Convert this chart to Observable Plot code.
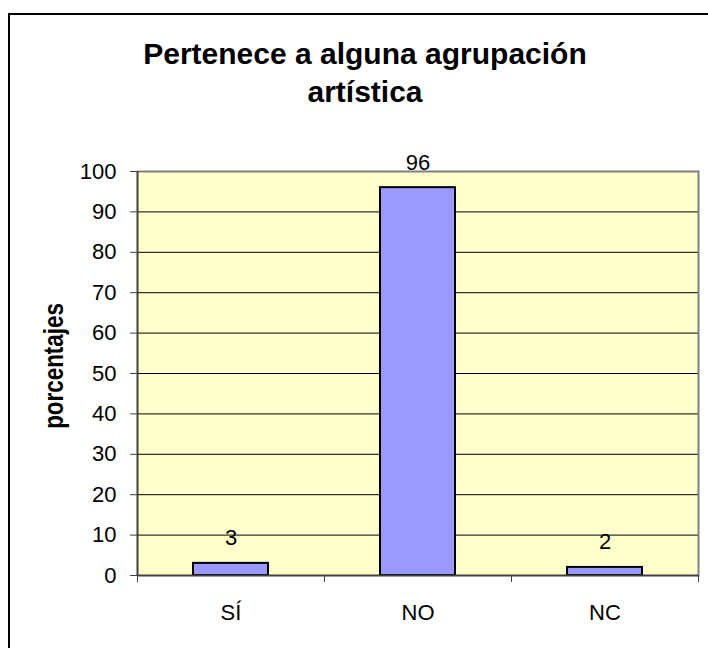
<!DOCTYPE html>
<html>
<head>
<meta charset="utf-8">
<script src="https://cdn.jsdelivr.net/npm/d3@7"></script>
<script src="https://cdn.jsdelivr.net/npm/@observablehq/plot@0.6"></script>
<style>
  html, body { margin: 0; padding: 0; background: #fff; }
  #wrap { position: relative; width: 708px; height: 648px; overflow: hidden; font-family: "Liberation Sans", Arial, sans-serif; }
  #border { position: absolute; left: 8px; top: 13px; width: 760px; height: 700px; border-left: 2px solid #000; border-top: 2px solid #000; box-sizing: border-box; }
  #title { position: absolute; left: 0; width: 730px; top: 35px; text-align: center; font-weight: bold; font-size: 30px; line-height: 38px; color: #000; }
  svg { position: absolute; left: 0; top: 0; }
</style>
</head>
<body>
<div id="wrap">
  <div id="border"></div>
  <div id="title">Pertenece a alguna agrupación<br>artística</div>
</div>
<script>
const categories = ["SÍ", "NO", "NC"];
const values = [3, 96, 2];
const yTicks = [0, 10, 20, 30, 40, 50, 60, 70, 80, 90, 100];
const yLabel = "porcentajes";

const data = categories.map((c, i) => ({cat: c, val: values[i]}));

const W = 708, H = 648, ML = 137, MR = 10, MT = 171, MB = 73;
const step = (W - ML - MR) / categories.length;
const font = "Liberation Sans, Arial, sans-serif";

const chart = Plot.plot({
  width: W,
  height: H,
  marginLeft: ML,
  marginRight: MR,
  marginTop: MT,
  marginBottom: MB,
  style: {fontFamily: font, background: "transparent", color: "#000"},
  x: {domain: categories, paddingInner: 0.6, paddingOuter: 0.3, label: null},
  y: {domain: [0, 100], label: null},
  marks: [
    Plot.frame({fill: "#FFFFCC", stroke: null}),
    Plot.ruleY(yTicks.filter(t => t > 0 && t < 100), {stroke: "#000", strokeWidth: 1}),
    Plot.ruleY([100], {stroke: "#808080", strokeWidth: 2}),
    Plot.frame({anchor: "right", stroke: "#808080", strokeWidth: 2}),
    Plot.barY(data, {x: "cat", y: "val", fill: "#9999FF", stroke: "#000", strokeWidth: 2}),
    Plot.text(data, {x: "cat", y: "val", text: d => String(d.val), dy: -25, fontSize: 22, fill: "#000"}),
    Plot.ruleX(categories, {x: d => d, y1: 0, y2: -1.75, dx: -step / 2, stroke: "#404040", strokeWidth: 1}),
    Plot.ruleX([categories[categories.length - 1]], {x: d => d, y1: 0, y2: -1.75, dx: step / 2, stroke: "#404040", strokeWidth: 1}),
    Plot.ruleX([categories[0]], {x: d => d, y1: 0, y2: 100, dx: -step / 2, stroke: "#404040", strokeWidth: 2}),
    Plot.ruleY([0], {stroke: "#404040", strokeWidth: 2}),
    Plot.axisY({ticks: yTicks, tickSize: 7, tickPadding: 14, fontSize: 22, label: null, stroke: "#404040", tickFormat: d => String(d)}),
    Plot.axisX({tickSize: 0, tickPadding: 29, fontSize: 22, label: null}),
    Plot.text([yLabel], {frameAnchor: "left", rotate: -90, text: d => d, fontSize: 28, fontWeight: "bold", fill: "#000", textAnchor: "middle", lineAnchor: "middle"})
  ]
});

// the reference's axis title is drawn narrower than its height: compress it along its own baseline
chart.querySelectorAll("text").forEach(t => {
  if (t.textContent === yLabel) {
    const cx = ML - 83;
    const cy = (MT + (H - MB)) / 2 - 7;
    t.removeAttribute("x");
    t.removeAttribute("y");
    t.setAttribute("dy", "0.32em");
    t.setAttribute("transform", `translate(${cx},${cy}) rotate(-90) scale(0.8,1)`);
    if (t.parentNode && t.parentNode.removeAttribute) t.parentNode.removeAttribute("transform");
  }
});

document.getElementById("wrap").appendChild(chart);
</script>
</body>
</html>
